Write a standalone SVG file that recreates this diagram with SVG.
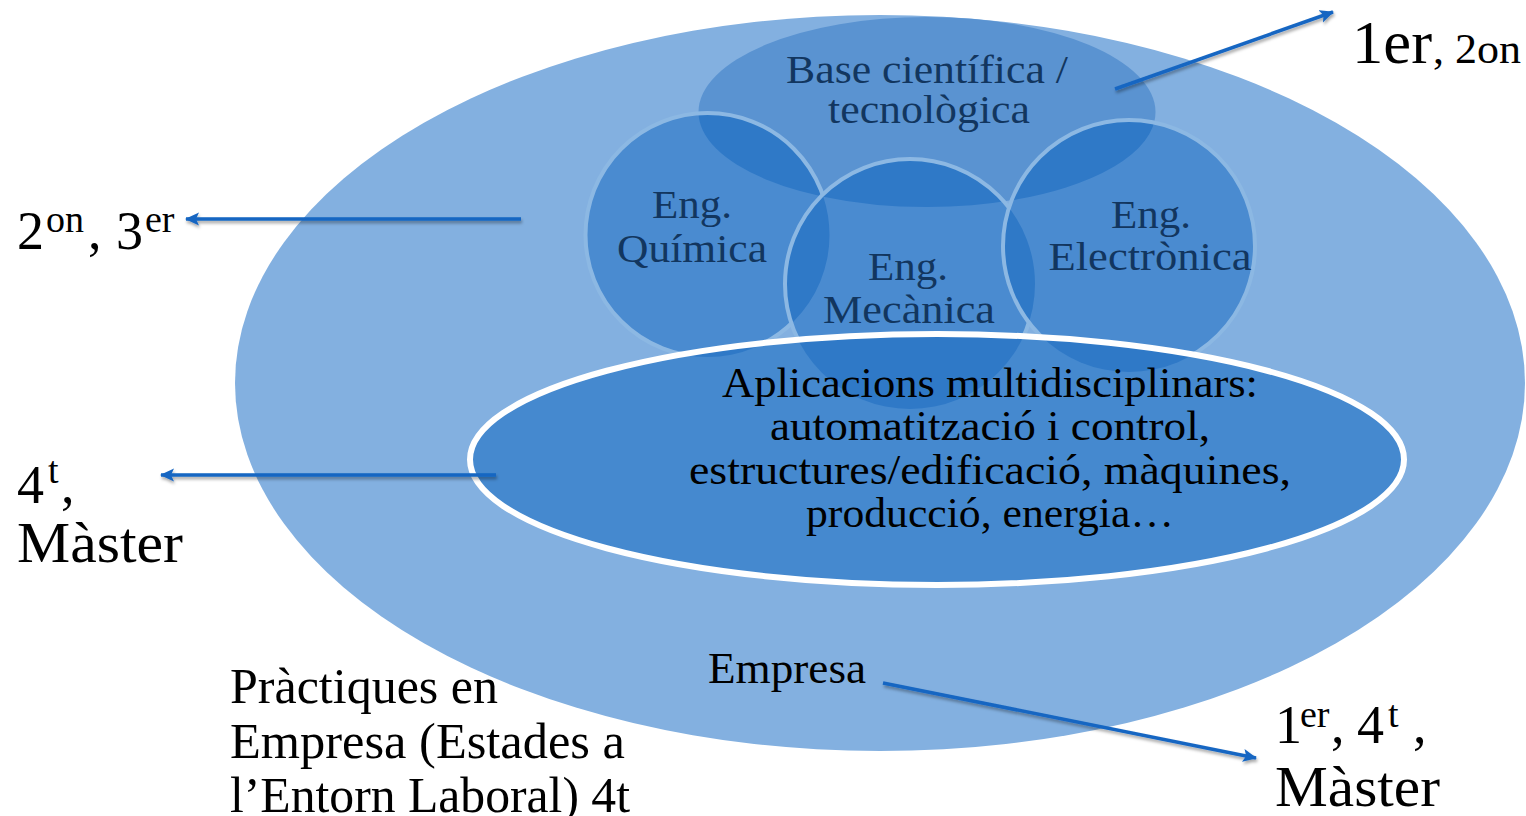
<svg xmlns="http://www.w3.org/2000/svg" width="1526" height="816" viewBox="0 0 1526 816">
<style>
text{font-family:"Liberation Serif","Times New Roman",serif;}
.lbl{fill:#12365f;font-size:41px;text-anchor:middle;}
.app{fill:#000;font-size:42px;text-anchor:middle;}
.side{fill:#000;font-size:54px;}
.sup{fill:#000;font-size:38px;}
.circ{fill:#4a8bd0;}
.dark{fill:#2f79c7;}
.ring{fill:none;stroke:#8cb8e3;stroke-width:4;}
.conn{fill:none;stroke:#1666c2;stroke-width:3.5;marker-end:url(#ah);filter:url(#sh);}
</style>
<defs>
<marker id="ah" markerUnits="userSpaceOnUse" markerWidth="16" markerHeight="16" refX="13" refY="7" orient="auto">
<path d="M0,0.5 L14,7 L0,13.5 L3,7 Z" fill="#1666c2"/>
</marker>
<filter id="sh" filterUnits="userSpaceOnUse" x="0" y="0" width="1526" height="816">
<feDropShadow dx="1" dy="2.5" stdDeviation="1.5" flood-color="#000" flood-opacity="0.35"/>
</filter>
<clipPath id="cTop"><ellipse cx="927" cy="112" rx="228.5" ry="95"/></clipPath>
<clipPath id="cTopQ"><ellipse cx="927" cy="112" rx="228.5" ry="95"/><circle cx="707.5" cy="235" r="122"/></clipPath>
<clipPath id="cTopM"><ellipse cx="927" cy="112" rx="228.5" ry="95"/><circle cx="910" cy="284" r="125"/></clipPath>
<clipPath id="cApp"><ellipse cx="937" cy="459.5" rx="467" ry="125.5"/></clipPath>
</defs>

<g id="outer">
<ellipse cx="880" cy="383" rx="645" ry="368" fill="#83b0e0"/>
</g>

<g id="base">
<ellipse cx="927" cy="112" rx="228.5" ry="95" fill="#5a93d1"/>
</g>

<g id="quimica">
<circle class="circ" cx="707.5" cy="235" r="122"/>
<circle class="dark" cx="707.5" cy="235" r="122" clip-path="url(#cTop)"/>
<circle class="ring" cx="707.5" cy="235" r="122"/>
</g>

<g id="mecanica">
<circle class="circ" cx="910" cy="284" r="125"/>
<circle class="dark" cx="910" cy="284" r="125" clip-path="url(#cTopQ)"/>
<circle class="ring" cx="910" cy="284" r="125"/>
</g>

<g id="electronica">
<circle class="circ" cx="1129" cy="246" r="126"/>
<circle class="dark" cx="1129" cy="246" r="126" clip-path="url(#cTopM)"/>
<circle class="ring" cx="1129" cy="246" r="126"/>
</g>

<g id="aplicacions">
<ellipse cx="937" cy="459.5" rx="467" ry="125.5" fill="#4589cf"/>
<g clip-path="url(#cApp)">
<circle fill="#2f79c7" cx="707.5" cy="235" r="122"/>
<circle fill="#2f79c7" cx="910" cy="284" r="125"/>
<circle fill="#2f79c7" cx="1129" cy="246" r="126"/>
</g>
<ellipse cx="937" cy="459.5" rx="467" ry="125.5" fill="none" stroke="#fff" stroke-width="6"/>
</g>

<g id="labels-venn">
<text class="lbl" x="927" y="83" textLength="282" lengthAdjust="spacingAndGlyphs">Base científica /</text>
<text class="lbl" x="929" y="123" textLength="202" lengthAdjust="spacingAndGlyphs">tecnològica</text>
<text class="lbl" x="692" y="218" textLength="80" lengthAdjust="spacingAndGlyphs">Eng.</text>
<text class="lbl" x="692" y="262" textLength="150" lengthAdjust="spacingAndGlyphs">Química</text>
<text class="lbl" x="908" y="280" textLength="80" lengthAdjust="spacingAndGlyphs">Eng.</text>
<text class="lbl" x="909" y="323" textLength="172" lengthAdjust="spacingAndGlyphs">Mecànica</text>
<text class="lbl" x="1151" y="228" textLength="80" lengthAdjust="spacingAndGlyphs">Eng.</text>
<text class="lbl" x="1150" y="270" textLength="203" lengthAdjust="spacingAndGlyphs">Electrònica</text>
</g>

<g id="aplicacions-text">
<text class="app" x="990" y="397" textLength="536" lengthAdjust="spacingAndGlyphs">Aplicacions multidisciplinars:</text>
<text class="app" x="990" y="440" textLength="440" lengthAdjust="spacingAndGlyphs">automatització i control,</text>
<text class="app" x="990" y="484" textLength="602" lengthAdjust="spacingAndGlyphs">estructures/edificació, màquines,</text>
<text class="app" x="990" y="527" textLength="368" lengthAdjust="spacingAndGlyphs">producció, energia…</text>
</g>

<g id="empresa">
<text x="708" y="683" font-size="44" fill="#000" textLength="158" lengthAdjust="spacingAndGlyphs">Empresa</text>
</g>

<g id="practiques">
<text x="230" y="703" font-size="50" fill="#000" textLength="268" lengthAdjust="spacingAndGlyphs">Pràctiques en</text>
<text x="230" y="758" font-size="50" fill="#000" textLength="395" lengthAdjust="spacingAndGlyphs">Empresa (Estades a</text>
<text x="230" y="812" font-size="50" fill="#000" textLength="400" lengthAdjust="spacingAndGlyphs">l’Entorn Laboral) 4t</text>
</g>

<g id="lbl-1er-2on">
<text x="1352" y="63" font-size="62" fill="#000" textLength="80" lengthAdjust="spacingAndGlyphs">1er</text>
<text x="1433" y="63" font-size="42" fill="#000" textLength="88" lengthAdjust="spacingAndGlyphs">, 2on</text>
</g>

<g id="lbl-2on-3er">
<text class="side" x="17" y="249">2</text>
<text class="sup" x="46" y="232">on</text>
<text class="side" x="88" y="249">,</text>
<text class="side" x="116" y="249">3</text>
<text class="sup" x="145" y="232">er</text>
</g>

<g id="lbl-4t-master">
<text class="side" x="17" y="503">4</text>
<text class="sup" x="48" y="483">t</text>
<text class="side" x="61" y="503">,</text>
<text x="17" y="562" font-size="56" fill="#000" textLength="166" lengthAdjust="spacingAndGlyphs">Màster</text>
</g>

<g id="lbl-1er-4t-master">
<text class="side" x="1275" y="743">1</text>
<text class="sup" x="1300" y="727">er</text>
<text class="side" x="1331" y="743">,</text>
<text class="side" x="1357" y="743">4</text>
<text class="sup" x="1388" y="727">t</text>
<text class="side" x="1413" y="743">,</text>
<text x="1275" y="806" font-size="56" fill="#000" textLength="165" lengthAdjust="spacingAndGlyphs">Màster</text>
</g>

<g id="connectors">
<line class="conn" x1="1115" y1="89" x2="1333" y2="12"/>
<line class="conn" x1="521" y1="219" x2="186" y2="219"/>
<line class="conn" x1="496" y1="475" x2="161" y2="475"/>
<line class="conn" x1="883" y1="683" x2="1256" y2="758"/>
</g>
</svg>
